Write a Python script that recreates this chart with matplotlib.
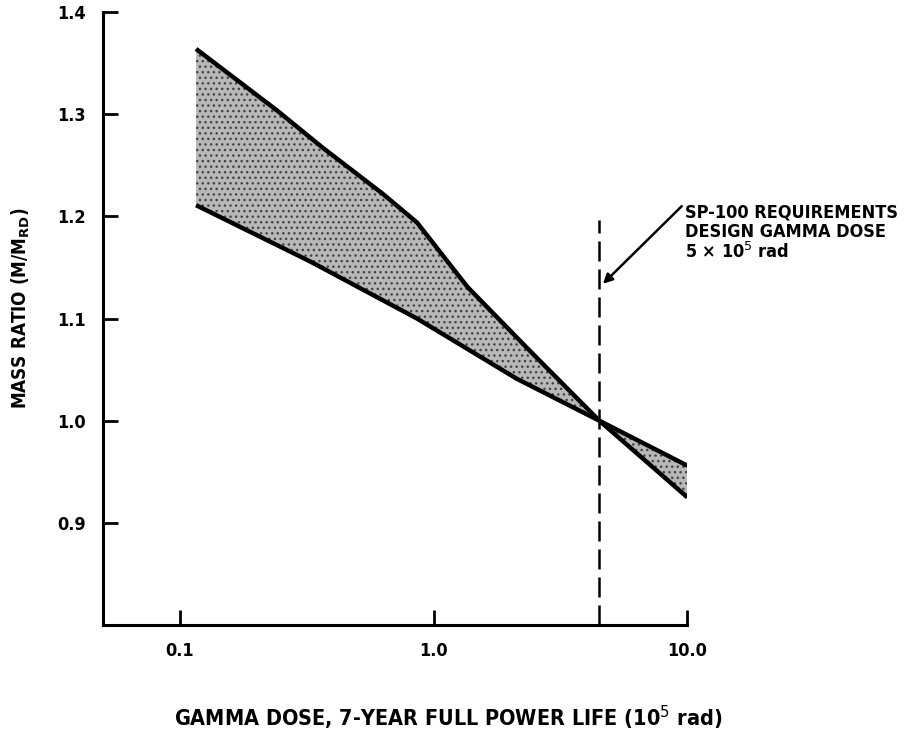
import matplotlib.pyplot as plt
import numpy as np

# steep band edge (top at left, bottom at right)
dose_a = [0.116, 0.241, 0.367, 0.632, 0.861, 1.36, 2.34, 4.5, 10.0]
ratio_a = [1.364, 1.304, 1.267, 1.222, 1.194, 1.131, 1.071, 1.0, 0.925]
# shallow band edge
dose_b = [0.116, 0.326, 0.861, 2.13, 4.5, 10.0]
ratio_b = [1.211, 1.156, 1.100, 1.041, 1.0, 0.956]

design_dose = 4.5
xticks = [0.1, 1.0, 10.0]
xtick_labels = ["0.1", "1.0", "10.0"]
yticks = [0.9, 1.0, 1.1, 1.2, 1.3, 1.4]
ytick_labels = ["0.9", "1.0", "1.1", "1.2", "1.3", "1.4"]

font = dict(family="DejaVu Sans", fontstretch="condensed", fontweight="bold")

fig = plt.figure(figsize=(9.08, 7.34), dpi=100)
ax = fig.add_axes([0.113, 0.1485, 0.644, 0.835])

# stippled band between the two edges
poly_x = np.r_[dose_a, dose_b[::-1]]
poly_y = np.r_[ratio_a, ratio_b[::-1]]
ax.fill(poly_x, poly_y, facecolor="#b8b8b8", edgecolor="#444444",
        hatch="...", linewidth=0)

ax.plot(dose_a, ratio_a, color="black", lw=3.2, solid_capstyle="butt")
ax.plot(dose_b, ratio_b, color="black", lw=3.2, solid_capstyle="butt")

ax.plot([design_dose, design_dose], [0.80, 1.196], color="black", lw=1.8,
        dashes=(8, 3.2))

ax.annotate("", xy=(4.65, 1.134), xytext=(9.5, 1.21),
            arrowprops=dict(arrowstyle="-|>", color="black", lw=1.8,
                            mutation_scale=14, shrinkA=0, shrinkB=0),
            annotation_clip=False)
ax.text(9.75, 1.213, "SP-100 REQUIREMENTS\nDESIGN GAMMA DOSE\n5 \u00d7 10$^5$ rad",
        fontsize=13, va="top", ha="left", linespacing=1.1, **font)

ax.set_xscale("log")
ax.set_xlim(0.0497, 10.0)
ax.set_ylim(0.80, 1.40)
ax.set_xticks(xticks)
ax.set_xticklabels(xtick_labels)
ax.set_yticks(yticks)
ax.set_yticklabels(ytick_labels)
ax.minorticks_off()
ax.tick_params(direction="in", length=11, width=2, labelsize=13, pad=12)
for lab in ax.get_xticklabels() + ax.get_yticklabels():
    lab.set_family("DejaVu Sans")
    lab.set_fontstretch("condensed")
    lab.set_fontweight("bold")

for s in ["top", "right"]:
    ax.spines[s].set_visible(False)
for s in ["left", "bottom"]:
    ax.spines[s].set_linewidth(2.2)

ax.set_xlabel("GAMMA DOSE, 7-YEAR FULL POWER LIFE (10$^5$ rad)",
              fontsize=15.5, **font)
ax.set_ylabel(r"MASS RATIO (M/M$_\mathbf{RD}$)", fontsize=13.5, **font)
ax.xaxis.set_label_coords(0.591, -0.128)
ax.yaxis.set_label_coords(-0.121, 0.517)

fig.savefig("out.png", dpi=100)
